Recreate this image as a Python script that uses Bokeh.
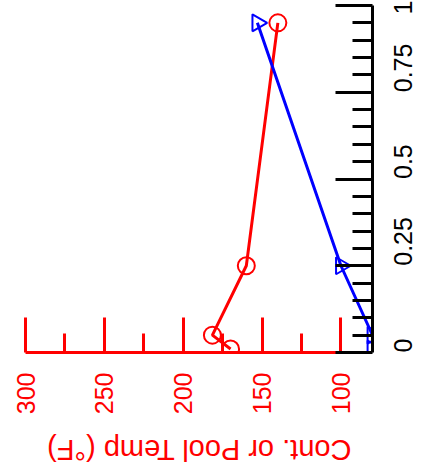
import math
from bokeh.plotting import figure
from bokeh.layouts import column
from bokeh.models import Range1d, LinearAxis, FixedTicker, NumeralTickFormatter
from bokeh.core.properties import value
from bokeh.embed import file_html
from bokeh.resources import INLINE

# ---- data ----
frac = [0.95, 0.25, 0.05, 0.01]
pool_temp = [140, 160, 181.5, 170]
cont_temp = [153, 100, 80, 80]

temp_ticks = [100, 150, 200, 250, 300]
temp_minor = [125, 175, 225, 275]
frac_ticks = [0, 0.25, 0.5, 0.75, 1]
frac_minor = [0.05, 0.1, 0.15, 0.2, 0.3, 0.35, 0.4, 0.45,
              0.55, 0.6, 0.65, 0.7, 0.8, 0.85, 0.9, 0.95]
temp_title = "Cont. or Pool Temp (°F)"

T_LEFT, T_RIGHT = 300, 80
FONT = "Liberation Sans"

p = figure(frame_width=347, frame_height=347,
           x_range=Range1d(T_LEFT, T_RIGHT), y_range=Range1d(0, 1),
           x_axis_location=None, y_axis_location=None,
           output_backend="svg", toolbar_location=None,
           min_border_left=25, min_border_right=45,
           min_border_top=5, min_border_bottom=72)
p.outline_line_color = None
p.xgrid.visible = False
p.ygrid.visible = False
p.background_fill_color = "white"
p.border_fill_color = "white"

# black tail of the bottom axis line (beyond 100 F)
p.segment(x0=[temp_ticks[0]], x1=[T_RIGHT], y0=[0], y1=[0],
          line_color="black", line_width=3)

xa = LinearAxis(
    ticker=FixedTicker(ticks=temp_ticks, minor_ticks=temp_minor),
    bounds=(min(temp_ticks), max(temp_ticks)),
    axis_line_color="red", axis_line_width=3,
    major_tick_line_color="red", major_tick_line_width=3,
    major_tick_in=35, major_tick_out=0,
    minor_tick_line_color="red", minor_tick_line_width=3,
    minor_tick_in=19, minor_tick_out=0,
    major_label_orientation=math.pi / 2,
    major_label_text_color="red", major_label_text_font=FONT,
    major_label_text_font_size="25px", major_label_standoff=20,
)
p.add_layout(xa, "below")

ya = LinearAxis(
    ticker=FixedTicker(ticks=frac_ticks, minor_ticks=frac_minor),
    formatter=NumeralTickFormatter(format="0.[00]"),
    axis_line_color="black", axis_line_width=3,
    major_tick_line_color="black", major_tick_line_width=3,
    major_tick_in=37, major_tick_out=0,
    minor_tick_line_color="black", minor_tick_line_width=3,
    minor_tick_in=20, minor_tick_out=0,
    major_label_orientation=math.pi / 2,
    major_label_text_color="black", major_label_text_font=FONT,
    major_label_text_font_size="25px", major_label_standoff=30,
)
p.add_layout(ya, "right")

# red series
p.line(pool_temp, frac, line_color="red", line_width=3)
p.scatter(pool_temp, frac, marker="circle", size=17, fill_color=None,
          line_color="red", line_width=2)
# blue series
p.line(cont_temp, frac, line_color="blue", line_width=3)
p.scatter(cont_temp, frac, marker="triangle", angle=-math.pi / 2, size=17,
          fill_color=None, line_color="blue", line_width=2)

# upside-down axis title in a strip below, sharing the x scale
t = figure(frame_width=347, frame_height=48,
           x_range=p.x_range, y_range=Range1d(0, 1),
           x_axis_location=None, y_axis_location=None,
           output_backend="svg", toolbar_location=None,
           min_border_left=25, min_border_right=45,
           min_border_top=0, min_border_bottom=0)
t.outline_line_color = None
t.xgrid.visible = False
t.ygrid.visible = False
t.text(x=[(T_LEFT + T_RIGHT) / 2], y=[0.46], text=[temp_title],
       angle=math.pi, text_align="center", text_baseline="middle",
       text_color="red", text_font=value(FONT), text_font_size="29px")

layout = column(p, t, spacing=0)
open("out.html", "w").write(file_html(layout, INLINE))
